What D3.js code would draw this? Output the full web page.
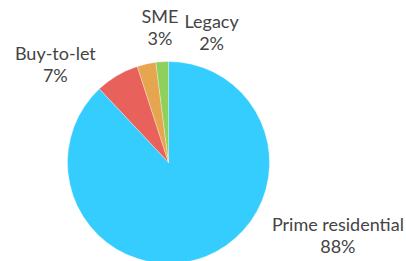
<!DOCTYPE html>
<html>
<head>
<meta charset="utf-8">
<script src="https://cdn.jsdelivr.net/npm/d3@7"></script>
<style>
  body { margin: 0; background: #fff; }
  svg { display: block; }
  text { font-family: Lato, sans-serif; font-size: 18px; fill: #444; }
</style>
</head>
<body>
<script>
  // data
  var categories = ['Prime residential', 'Buy-to-let', 'SME', 'Legacy'];
  var shares = [88, 7, 3, 2];
  var colors = ['#35cdfe', '#e8615b', '#e6a650', '#8fcf5b'];

  var width = 406;
  var height = 261;
  var cx = 168.5, cy = 162.5, radius = 101;

  var svg = d3.select('body').append('svg')
    .attr('width', width)
    .attr('height', height);

  var data = categories.map(function(c, i) {
    return { name: c, value: shares[i], color: colors[i] };
  });

  var pie = d3.pie()
    .sort(null)
    .value(d => d.value);

  var arc = d3.arc()
    .innerRadius(0)
    .outerRadius(radius);

  var labelArc = d3.arc()
    .innerRadius(radius + 25)
    .outerRadius(radius + 25);

  // nudge labels away from each other (roughly like the original)
  var nudge = {
    'Prime residential': [123, -44],
    'Buy-to-let': [-49, 10],
    'SME': [19, -12],
    'Legacy': [51, -4]
  };

  var g = svg.append('g')
    .attr('transform', `translate(${cx},${cy})`);

  var arcs = pie(data);

  g.selectAll('path')
    .data(arcs)
    .enter().append('path')
    .attr('d', arc)
    .attr('fill', d => d.data.color)
    .attr('stroke', '#fff')
    .attr('stroke-width', 0.5)
    .attr('stroke-opacity', 0.6);

  var labels = g.selectAll('text.lbl')
    .data(arcs)
    .enter().append('text')
    .attr('class', 'lbl')
    .attr('text-anchor', 'middle')
    .attr('transform', function(d) {
      var c = labelArc.centroid(d);
      var n = nudge[d.data.name];
      return `translate(${c[0] + n[0]},${c[1] + n[1]})`;
    });

  labels.append('tspan')
    .attr('x', 0)
    .attr('dy', '-0.25em')
    .text(d => d.data.name);

  labels.append('tspan')
    .attr('x', 0)
    .attr('dy', 22)
    .text(d => d.data.value + '%');
</script>
</body>
</html>
